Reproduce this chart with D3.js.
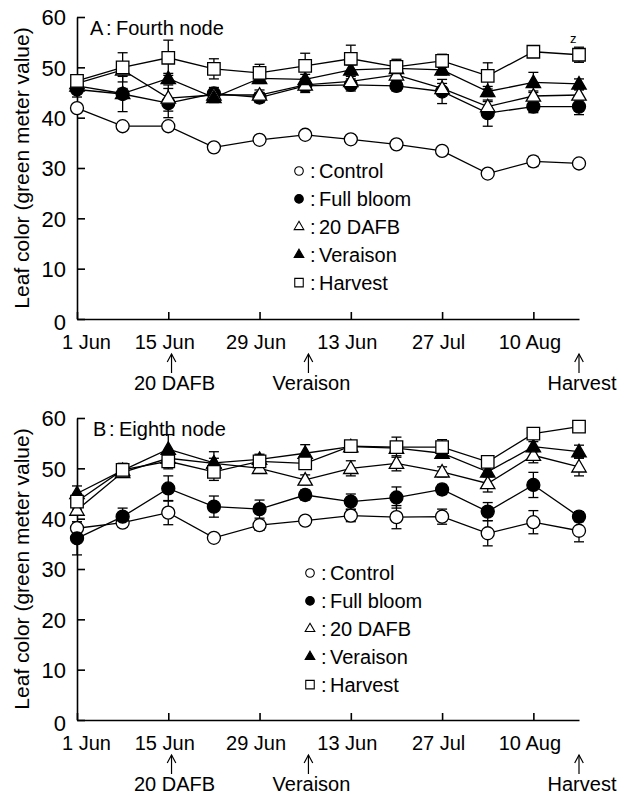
<!DOCTYPE html>
<html><head><meta charset="utf-8">
<script src="https://cdn.jsdelivr.net/npm/d3@7"></script>
<style>
body{margin:0;background:#fff}
svg{display:block}
text{font-family:"Liberation Sans",Arial,Helvetica,sans-serif;fill:#000}
</style>
</head><body>
<svg id="c" width="631" height="796"></svg>
<script>
// ---- data ----
const sampleDays = [0, 7, 14, 21, 28, 35, 42, 49, 56, 63, 70, 77]; // days after 1 Jun
const tickDays = [0, 14, 28, 42, 56, 70];
const tickLabels = ["1 Jun", "15 Jun", "29 Jun", "13 Jun", "27 Jul", "10 Aug"];
const yTicks = [0, 10, 20, 30, 40, 50, 60];
const seriesNames = ["Control", "Full bloom", "20 DAFB", "Veraison", "Harvest"];
const stageDays = [14.5, 35.5, 77];
const stageLabels = ["20 DAFB", "Veraison", "Harvest"];

// Panel A: Fourth node
const aControl   = [41.9, 38.3, 38.3, 34.1, 35.6, 36.6, 35.7, 34.7, 33.4, 28.9, 31.3, 30.9];
const aFullBloom = [45.6, 44.7, 42.9, 44.8, 44.0, 46.3, 46.5, 46.3, 45.2, 40.9, 42.2, 42.2];
const a20DAFB    = [46.8, 49.5, 43.9, 44.5, 44.5, 46.5, 47.2, 48.5, 45.8, 42.2, 44.3, 44.5];
const aVeraison  = [46.3, 44.8, 47.8, 44.0, 47.8, 47.6, 49.5, 49.8, 49.5, 45.2, 47.0, 46.7];
const aHarvest   = [47.3, 50.0, 51.9, 49.7, 48.9, 50.3, 51.7, 50.1, 51.3, 48.3, 53.1, 52.5];
const aControlErr   = [0.8, 0.5, 0.5, 0.5, 0.6, 0.8, 0.8, 0.5, 0.5, 0.5, 1.0, 0.5];
const aFullBloomErr = [1.5, 3.5, 2.9, 1.2, 1.0, 1.3, 1.2, 1.0, 2.4, 2.6, 1.2, 1.6];
const a20DAFBErr    = [1.0, 1.0, 2.6, 1.0, 1.0, 1.2, 1.0, 1.0, 1.0, 1.0, 1.0, 1.0];
const aVeraisonErr  = [1.0, 1.0, 1.0, 1.0, 1.0, 1.0, 1.0, 1.0, 1.0, 1.0, 2.0, 1.0];
const aHarvestErr   = [1.0, 2.9, 3.5, 2.0, 1.7, 2.5, 2.7, 1.5, 1.3, 2.6, 0.8, 1.5];

// Panel B: Eighth node
const bControl   = [38.1, 39.2, 41.2, 36.2, 38.7, 39.6, 40.6, 40.3, 40.4, 37.1, 39.3, 37.6];
const bFullBloom = [36.1, 40.4, 46.0, 42.4, 41.9, 44.7, 43.4, 44.2, 45.8, 41.4, 46.7, 40.4];
const b20DAFB    = [41.7, 49.2, 52.0, 51.0, 50.0, 47.7, 50.0, 51.0, 49.3, 47.0, 52.6, 50.3];
const bVeraison  = [45.0, 49.6, 53.8, 51.1, 51.8, 53.0, 54.3, 54.0, 53.0, 49.3, 54.3, 53.3];
const bHarvest   = [43.4, 49.7, 51.4, 49.3, 51.4, 51.0, 54.4, 54.2, 54.2, 51.3, 56.9, 58.3];
const bControlErr   = [1.0, 0.8, 2.4, 0.5, 1.0, 0.8, 1.2, 2.3, 1.5, 2.5, 2.3, 2.2];
const bFullBloomErr = [3.3, 1.7, 2.5, 2.1, 1.8, 1.0, 1.5, 2.1, 1.0, 1.8, 2.5, 1.0];
const b20DAFBErr    = [1.0, 1.0, 1.0, 1.0, 1.0, 1.0, 1.5, 1.5, 1.0, 1.7, 1.5, 1.8];
const bVeraisonErr  = [1.5, 1.0, 2.9, 2.2, 1.0, 1.7, 1.0, 1.0, 1.0, 1.0, 1.0, 1.3];
const bHarvestErr   = [1.5, 1.3, 1.5, 1.7, 1.0, 1.0, 1.0, 2.0, 1.5, 1.0, 1.0, 1.0];

// ---- drawing ----
const svg = d3.select("#c");
const x = d3.scaleLinear().domain([0, 77]).range([77, 579]);

const symbolDefs = [
  {type: d3.symbolCircle,   big: 133, small: 58, fill: "#fff"},
  {type: d3.symbolCircle,   big: 133, small: 58, fill: "#000"},
  {type: d3.symbolTriangle, big: 90,  small: 40, fill: "#fff"},
  {type: d3.symbolTriangle, big: 90,  small: 40, fill: "#000"},
  {type: d3.symbolSquare,   big: 156, small: 72, fill: "#fff"}
];

function drawPanel(cfg) {
  const y = d3.scaleLinear().domain([0, 60]).range([cfg.y0, cfg.y0 - 302]);
  const g = svg.append("g");

  // y axis
  const ya = g.append("g").attr("transform", `translate(${x(0)},0)`)
    .call(d3.axisLeft(y).tickValues(yTicks).tickSizeInner(-8).tickSizeOuter(0).tickPadding(11));
  ya.selectAll("text").style("font-size", "22px").attr("dy", "0.35em")
    .attr("transform", d => d === 0 ? "translate(0,3)" : null);
  // x axis
  const xa = g.append("g").attr("transform", `translate(0,${y(0)})`)
    .call(d3.axisBottom(x).tickValues(tickDays).tickSizeInner(-7).tickSizeOuter(0).tickPadding(16)
      .tickFormat((d, i) => tickLabels[i]));
  xa.selectAll("text").style("font-size", "20px")
    .attr("dx", (d, i) => i === 0 ? 9 : -4);
  [ya, xa].forEach(a => {
    a.select(".domain").attr("stroke", "#000").attr("stroke-width", 1.6);
    a.selectAll(".tick line").attr("stroke", "#000").attr("stroke-width", 1.6);
  });

  // y title
  g.append("text").attr("transform", `translate(29,${(y(0) + y(60)) / 2}) rotate(-90)`)
    .attr("text-anchor", "middle").style("font-size", "21px")
    .text("Leaf color (green meter value)");

  // panel title
  const t = g.append("g");
  t.append("text").attr("x", cfg.titleX).attr("y", y(60) + 18).style("font-size", "20px").text(cfg.letter);
  t.append("text").attr("x", cfg.titleX + 16).attr("y", y(60) + 18).style("font-size", "20px").text(":");
  t.append("text").attr("x", cfg.titleX + 26).attr("y", y(60) + 18).style("font-size", "20px").text(cfg.title);

  const line = d3.line().x((d, i) => x(sampleDays[i])).y(d => y(d));
  // lines
  cfg.series.forEach(s => {
    g.append("path").datum(s).attr("d", line).attr("fill", "none")
      .attr("stroke", "#000").attr("stroke-width", 1.3);
  });
  // error bars
  cfg.series.forEach((s, k) => {
    const e = cfg.errs[k];
    const eg = g.append("g").attr("stroke", "#000").attr("stroke-width", 1.3);
    s.forEach((v, i) => {
      const xx = x(sampleDays[i]);
      eg.append("line").attr("x1", xx).attr("x2", xx).attr("y1", y(v - e[i])).attr("y2", y(v + e[i]));
      eg.append("line").attr("x1", xx - 5).attr("x2", xx + 5).attr("y1", y(v + e[i])).attr("y2", y(v + e[i]));
      eg.append("line").attr("x1", xx - 5).attr("x2", xx + 5).attr("y1", y(v - e[i])).attr("y2", y(v - e[i]));
    });
  });
  // markers
  cfg.series.forEach((s, k) => {
    const sd = symbolDefs[k];
    g.append("g").selectAll("path").data(s).join("path")
      .attr("transform", (d, i) => `translate(${x(sampleDays[i])},${y(d) + (sd.type === d3.symbolTriangle ? 1 : 0)})`)
      .attr("d", d3.symbol().type(sd.type).size(sd.big))
      .attr("fill", sd.fill).attr("stroke", "#000").attr("stroke-width", 1.3);
  });

  // legend
  const lg = g.append("g");
  seriesNames.forEach((n, k) => {
    const sd = symbolDefs[k];
    const ry = cfg.legY + k * 27.9;
    lg.append("path").attr("transform", `translate(${cfg.legX},${ry})`)
      .attr("d", d3.symbol().type(sd.type).size(sd.small))
      .attr("fill", sd.fill).attr("stroke", "#000").attr("stroke-width", 1.1);
    lg.append("text").attr("x", cfg.legX + 11).attr("y", ry + 7).style("font-size", "20px").text(":");
    lg.append("text").attr("x", cfg.legX + 20).attr("y", ry + 7).style("font-size", "20px").text(n);
  });

  // stage arrows
  stageDays.forEach((d, i) => {
    const ax = x(d);
    const top = y(0) + 35, bot = y(0) + 54;
    const ag = g.append("g").attr("stroke", "#000").attr("stroke-width", 1.2).attr("fill", "none");
    ag.append("line").attr("x1", ax).attr("x2", ax).attr("y1", top).attr("y2", bot);
    ag.append("path").attr("d", `M${ax - 4.3},${top + 8}L${ax},${top}L${ax + 4.3},${top + 8}`);
    g.append("text").attr("x", ax + 3).attr("y", y(0) + 71).attr("text-anchor", "middle")
      .style("font-size", "20px").text(stageLabels[i]);
  });
  return y;
}

const yA = drawPanel({
  y0: 319, letter: "A", title: "Fourth node", titleX: 90,
  series: [aControl, aFullBloom, a20DAFB, aVeraison, aHarvest],
  errs: [aControlErr, aFullBloomErr, a20DAFBErr, aVeraisonErr, aHarvestErr],
  legX: 299, legY: 171
});
// significance mark
svg.append("text").attr("x", x(77) - 9).attr("y", 43).style("font-size", "13px").text("z");

drawPanel({
  y0: 720, letter: "B", title: "Eighth node", titleX: 93,
  series: [bControl, bFullBloom, b20DAFB, bVeraison, bHarvest],
  errs: [bControlErr, bFullBloomErr, b20DAFBErr, bVeraisonErr, bHarvestErr],
  legX: 310, legY: 573
});
</script>
</body></html>
